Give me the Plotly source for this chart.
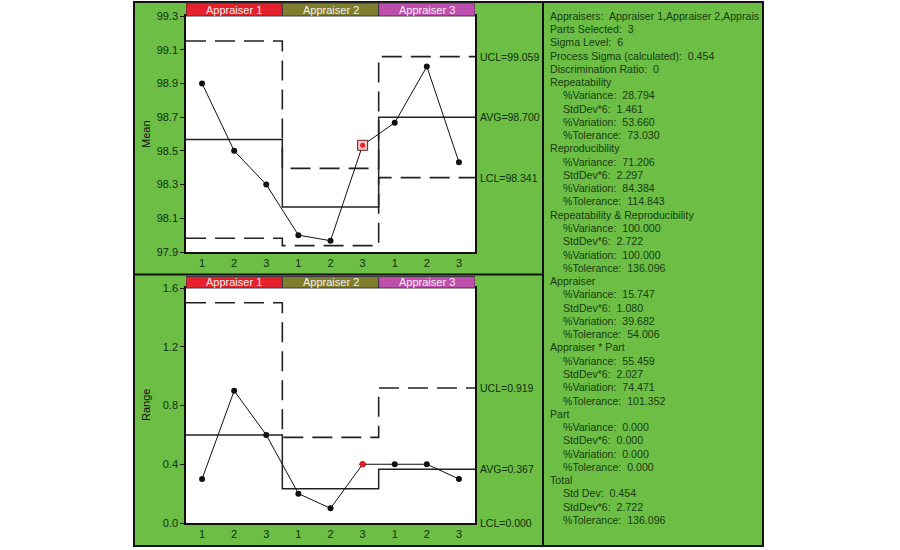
import plotly.graph_objects as go

# ---------------- data ----------------
appraisers = ["Appraiser 1", "Appraiser 2", "Appraiser 3"]
parts = ["1", "2", "3"]
mean_values = [98.90, 98.50, 98.30, 98.00, 97.967, 98.533, 98.667, 99.00, 98.433]
range_values = [0.30, 0.90, 0.60, 0.20, 0.10, 0.40, 0.40, 0.40, 0.30]
mean_ucl = [99.152, 98.396, 99.059]
mean_lcl = [97.982, 97.938, 98.341]
range_ucl = [1.500, 0.583, 0.919]
range_lcl = [0.0, 0.0, 0.0]
highlight_index = 5
mean_ticks = [97.9, 98.1, 98.3, 98.5, 98.7, 98.9, 99.1, 99.3]
range_ticks = [0.0, 0.4, 0.8, 1.2, 1.6]
header_colors = ["#E51F2B", "#7E7E2E", "#BE4FAE"]
stats_lines = [
    (0, "Appraisers:  Appraiser 1,Appraiser 2,Apprais"),
    (0, "Parts Selected:  3"),
    (0, "Sigma Level:  6"),
    (0, "Process Sigma (calculated):  0.454"),
    (0, "Discrimination Ratio:  0"),
    (0, "Repeatability"),
    (1, "%Variance:  28.794"),
    (1, "StdDev*6:  1.461"),
    (1, "%Variation:  53.660"),
    (1, "%Tolerance:  73.030"),
    (0, "Reproducibility"),
    (1, "%Variance:  71.206"),
    (1, "StdDev*6:  2.297"),
    (1, "%Variation:  84.384"),
    (1, "%Tolerance:  114.843"),
    (0, "Repeatability & Reproducibility"),
    (1, "%Variance:  100.000"),
    (1, "StdDev*6:  2.722"),
    (1, "%Variation:  100.000"),
    (1, "%Tolerance:  136.096"),
    (0, "Appraiser"),
    (1, "%Variance:  15.747"),
    (1, "StdDev*6:  1.080"),
    (1, "%Variation:  39.682"),
    (1, "%Tolerance:  54.006"),
    (0, "Appraiser * Part"),
    (1, "%Variance:  55.459"),
    (1, "StdDev*6:  2.027"),
    (1, "%Variation:  74.471"),
    (1, "%Tolerance:  101.352"),
    (0, "Part"),
    (1, "%Variance:  0.000"),
    (1, "StdDev*6:  0.000"),
    (1, "%Variation:  0.000"),
    (1, "%Tolerance:  0.000"),
    (0, "Total"),
    (1, "Std Dev:  0.454"),
    (1, "StdDev*6:  2.722"),
    (1, "%Tolerance:  136.096"),
]

# ---------------- helpers ----------------
W, H = 900, 550
def px(x): return x / W
def py(y): return 1 - y / H

GREEN = "#6CBE45"
TXT = "#0E300E"
FONT = "Liberation Sans, Arial, sans-serif"
n = len(mean_values)
xs = list(range(n))
group_edges = [-0.5, 2.5, 5.5, 8.5]

def group_means(vals):
    return [sum(vals[i*3:(i+1)*3]) / 3 for i in range(3)]

def step(vals):
    return group_edges, list(vals) + [vals[-1]]

mean_cl = group_means(mean_values)
range_cl = group_means(range_values)

fig = go.Figure()

shapes = []
shapes.append(dict(type="rect", xref="paper", yref="paper", x0=px(134), x1=px(543), y0=py(546), y1=py(2),
                   fillcolor=GREEN, line=dict(color="#111", width=2), layer="below"))
shapes.append(dict(type="rect", xref="paper", yref="paper", x0=px(543), x1=px(763), y0=py(546), y1=py(2),
                   fillcolor=GREEN, line=dict(color="#111", width=2), layer="below"))
shapes.append(dict(type="line", xref="paper", yref="paper", x0=px(134), x1=px(543), y0=py(274.5), y1=py(274.5),
                   line=dict(color="#111", width=2)))
for (t, b) in [(16, 252), (288, 523)]:
    shapes.append(dict(type="rect", xref="paper", yref="paper", x0=px(186), x1=px(475), y0=py(b), y1=py(t),
                       fillcolor="white", line=dict(width=0), layer="below"))

annotations = []
for row, (yt, yb) in enumerate([(3, 16), (276.5, 288)]):
    xref = "x" if row == 0 else "x2"
    for g, name in enumerate(appraisers):
        shapes.append(dict(type="rect", xref=xref, yref="paper", x0=group_edges[g], x1=group_edges[g+1],
                           y0=py(yb), y1=py(yt), fillcolor=header_colors[g],
                           line=dict(color="#3a3a3a", width=1)))
        annotations.append(dict(xref=xref, yref="paper", x=(group_edges[g]+group_edges[g+1])/2,
                                y=py((yt+yb)/2), text=name, showarrow=False,
                                font=dict(family=FONT, size=11, color="#F4F0F0"),
                                xanchor="center", yanchor="middle"))

LINE = "#222222"
DASH = "20px,9px"

def add_chart(vals, cl, ucl, lcl, xa, ya, hl_square, draw_lcl):
    sx, sy = step(ucl)
    fig.add_trace(go.Scatter(x=sx, y=sy, mode="lines", line=dict(color=LINE, width=1.6, dash=DASH, shape="hv"),
                             xaxis=xa, yaxis=ya, hoverinfo="skip"))
    if draw_lcl:
        sx, sy = step(lcl)
        fig.add_trace(go.Scatter(x=sx, y=sy, mode="lines", line=dict(color=LINE, width=1.6, dash=DASH, shape="hv"),
                                 xaxis=xa, yaxis=ya, hoverinfo="skip"))
    sx, sy = step(cl)
    fig.add_trace(go.Scatter(x=sx, y=sy, mode="lines", line=dict(color=LINE, width=1.5, shape="hv"),
                             xaxis=xa, yaxis=ya, hoverinfo="skip"))
    fig.add_trace(go.Scatter(x=xs, y=vals, mode="lines+markers", line=dict(color="#111", width=1),
                             marker=dict(color="#111", size=6), xaxis=xa, yaxis=ya))
    if hl_square:
        fig.add_trace(go.Scatter(x=[xs[highlight_index]], y=[vals[highlight_index]], mode="markers",
                                 marker=dict(symbol="square", size=10, color="#F2CACA",
                                             line=dict(color="#7A1414", width=1)),
                                 xaxis=xa, yaxis=ya))
    fig.add_trace(go.Scatter(x=[xs[highlight_index]], y=[vals[highlight_index]], mode="markers",
                             marker=dict(color="#E0202A", size=5 if hl_square else 6),
                             xaxis=xa, yaxis=ya))

add_chart(mean_values, mean_cl, mean_ucl, mean_lcl, "x", "y", True, True)
add_chart(range_values, range_cl, range_ucl, range_lcl, "x2", "y2", False, False)

lab_font = dict(family=FONT, size=10.5, color=TXT)
for yref, items in [("y", [("UCL=%.3f" % mean_ucl[-1], mean_ucl[-1]),
                            ("AVG=%.3f" % mean_cl[-1], mean_cl[-1]),
                            ("LCL=%.3f" % mean_lcl[-1], mean_lcl[-1])]),
                    ("y2", [("UCL=%.3f" % range_ucl[-1], range_ucl[-1]),
                            ("AVG=%.3f" % range_cl[-1], range_cl[-1]),
                            ("LCL=%.3f" % range_lcl[-1], range_lcl[-1])])]:
    for text, yv in items:
        annotations.append(dict(xref="paper", yref=yref, x=px(478), y=yv, text=text, showarrow=False,
                                xanchor="left", yanchor="middle", font=lab_font))

annotations.append(dict(xref="paper", yref="paper", x=px(146), y=py(134), text="Mean", textangle=-90,
                        showarrow=False, font=dict(family=FONT, size=11, color="#111"),
                        xanchor="center", yanchor="middle"))
annotations.append(dict(xref="paper", yref="paper", x=px(146), y=py(405), text="Range", textangle=-90,
                        showarrow=False, font=dict(family=FONT, size=11, color="#111"),
                        xanchor="center", yanchor="middle"))

for i, (indent, text) in enumerate(stats_lines):
    annotations.append(dict(xref="paper", yref="paper", x=px(548 + 12.5 * indent), y=py(15.7 + i * 13.27),
                            text=text, showarrow=False, xanchor="left", yanchor="middle",
                            font=dict(family=FONT, size=10.6, color="#173D10")))

axis_common = dict(showgrid=False, zeroline=False, showline=True, linecolor="#111", linewidth=1.5,
                   mirror=True, automargin=False, tickfont=dict(family=FONT, size=11, color=TXT))
xtickvals = xs
xticktext = parts * 3

fig.update_layout(
    width=W, height=H, autosize=False,
    margin=dict(l=0, r=0, t=0, b=0, pad=0, autoexpand=False),
    paper_bgcolor="white", plot_bgcolor="rgba(0,0,0,0)", showlegend=False,
    shapes=shapes, annotations=annotations,
    xaxis=dict(domain=[px(186), px(475)], range=[-0.5, 8.5], tickvals=xtickvals, ticktext=xticktext,
               ticks="", anchor="y", **axis_common),
    yaxis=dict(domain=[py(252), py(16)], range=[97.9, 99.3], tickvals=mean_ticks,
               tickformat=".1f", ticks="outside", ticklen=4, tickcolor="#111", anchor="x", **axis_common),
    xaxis2=dict(domain=[px(186), px(475)], range=[-0.5, 8.5], tickvals=xtickvals, ticktext=xticktext,
                ticks="", anchor="y2", **axis_common),
    yaxis2=dict(domain=[py(523), py(288)], range=[0, 1.6], tickvals=range_ticks,
                tickformat=".1f", ticks="outside", ticklen=4, tickcolor="#111", anchor="x2", **axis_common),
)

fig.write_html("out.html", config={"displayModeBar": False, "responsive": False},
               post_script="document.documentElement.style.margin='0';document.body.style.margin='0';"
                           "document.body.style.overflow='hidden';")
